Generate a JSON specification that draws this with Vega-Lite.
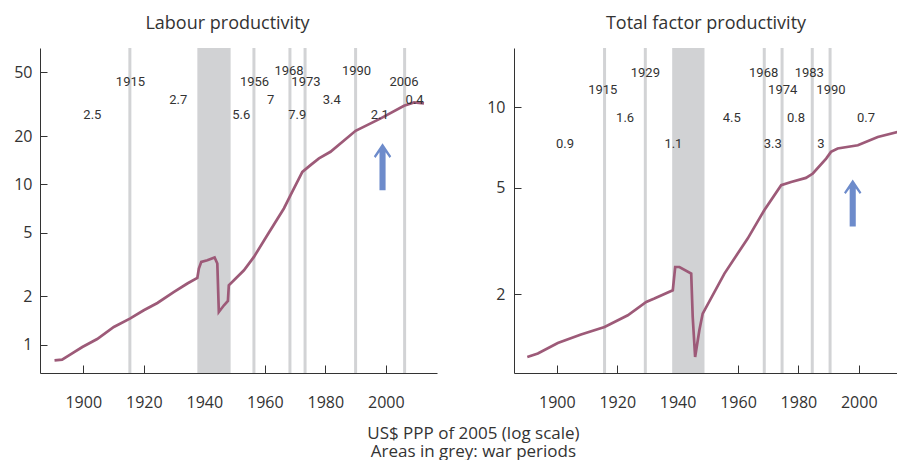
{
  "$schema": "https://vega.github.io/schema/vega-lite/v6.json",
  "background": "white",
  "padding": {"left": 13, "top": 14, "right": 0, "bottom": 0},
  "bounds": "flush",
  "spacing": 77,
  "title": {"text": ["US$ PPP of 2005 (log scale)", "Areas in grey: war periods"], "orient": "bottom", "anchor": "middle", "fontSize": 17, "font": "Open Sans", "fontWeight": "normal", "color": "#333", "lineHeight": 17.5, "offset": 16, "dx": 15},
  "config": {
    "view": {"stroke": null},
    "axis": {"grid": false, "domainColor": "#333", "tickColor": "#333", "labelColor": "#333", "labelFont": "Open Sans", "labelFontSize": 16, "title": null, "domainWidth": 1, "tickWidth": 1}
  },
  "datasets": {
    "lp": [
      {"year": 1890.5, "v": 0.797}, {"year": 1893, "v": 0.805}, {"year": 1895.8, "v": 0.868}, {"year": 1899.7, "v": 0.965},
      {"year": 1904.6, "v": 1.082}, {"year": 1910.1, "v": 1.286}, {"year": 1915.4, "v": 1.452}, {"year": 1920, "v": 1.636},
      {"year": 1924.5, "v": 1.817}, {"year": 1930, "v": 2.129}, {"year": 1934.4, "v": 2.403}, {"year": 1937.7, "v": 2.604},
      {"year": 1938.2, "v": 2.981}, {"year": 1939, "v": 3.28}, {"year": 1941, "v": 3.36}, {"year": 1943.4, "v": 3.493},
      {"year": 1944.3, "v": 3.204}, {"year": 1944.8, "v": 1.597}, {"year": 1946.5, "v": 1.758}, {"year": 1947.8, "v": 1.87},
      {"year": 1948.1, "v": 2.344}, {"year": 1953.1, "v": 2.909}, {"year": 1956.4, "v": 3.524}, {"year": 1960.8, "v": 4.814},
      {"year": 1966.3, "v": 7.069}, {"year": 1968.5, "v": 8.56}, {"year": 1972.4, "v": 11.97}, {"year": 1975.1, "v": 13.18},
      {"year": 1977.9, "v": 14.52}, {"year": 1981.7, "v": 15.97}, {"year": 1990, "v": 21.6}, {"year": 1998.3, "v": 25.82},
      {"year": 2006, "v": 30.95}, {"year": 2009.3, "v": 32.5}, {"year": 2012.6, "v": 32.03}
    ],
    "tfp": [
      {"year": 1890.2, "v": 1.164}, {"year": 1893.7, "v": 1.199}, {"year": 1900.3, "v": 1.314}, {"year": 1908, "v": 1.412},
      {"year": 1915.8, "v": 1.508}, {"year": 1923.5, "v": 1.668}, {"year": 1929.6, "v": 1.871}, {"year": 1932.3, "v": 1.926},
      {"year": 1938.4, "v": 2.069}, {"year": 1939.2, "v": 2.529}, {"year": 1940.6, "v": 2.529}, {"year": 1944.5, "v": 2.389},
      {"year": 1945, "v": 1.643}, {"year": 1945.8, "v": 1.164}, {"year": 1947.2, "v": 1.466}, {"year": 1948.3, "v": 1.692},
      {"year": 1955.5, "v": 2.389}, {"year": 1959.9, "v": 2.84}, {"year": 1963.2, "v": 3.23}, {"year": 1968.7, "v": 4.125},
      {"year": 1974.3, "v": 5.117}, {"year": 1977.6, "v": 5.264}, {"year": 1982.5, "v": 5.45}, {"year": 1984.8, "v": 5.66},
      {"year": 1989.2, "v": 6.44}, {"year": 1990.8, "v": 6.82}, {"year": 1993, "v": 7.02}, {"year": 1999.7, "v": 7.22},
      {"year": 2006.3, "v": 7.76}, {"year": 2012.9, "v": 8.1}
    ],
    "lp_band": [{"start": 1937.7, "end": 1948.7}],
    "tfp_band": [{"start": 1938.2, "end": 1948.9}],
    "lp_lines": [{"year": 1915.4}, {"year": 1956.4}, {"year": 1968.3}, {"year": 1973.3}, {"year": 1990}, {"year": 2006.2}],
    "tfp_lines": [{"year": 1915.8}, {"year": 1929.3}, {"year": 1968.7}, {"year": 1974.6}, {"year": 1984.6}, {"year": 1990.5}],
    "lp_labels": [
      {"label": "2.5", "year": 1903, "v": 27.1}, {"label": "1915", "year": 1915.6, "v": 43.3}, {"label": "2.7", "year": 1931.4, "v": 33.6},
      {"label": "5.6", "year": 1952.2, "v": 27.1}, {"label": "1956", "year": 1956.6, "v": 43.3}, {"label": "7", "year": 1961.9, "v": 33.6},
      {"label": "1968", "year": 1968, "v": 51.2}, {"label": "7.9", "year": 1970.7, "v": 27.1}, {"label": "1973", "year": 1973.6, "v": 43.3},
      {"label": "3.4", "year": 1982.1, "v": 33.6}, {"label": "1990", "year": 1990.3, "v": 51.2}, {"label": "2.1", "year": 1998, "v": 27.1},
      {"label": "2006", "year": 2006, "v": 43.3}, {"label": "0.4", "year": 2009.5, "v": 33.6}
    ],
    "tfp_labels": [
      {"label": "0.9", "year": 1902.7, "v": 7.27}, {"label": "1915", "year": 1915.2, "v": 11.61}, {"label": "1.6", "year": 1922.6, "v": 9.17},
      {"label": "1929", "year": 1929.3, "v": 13.52}, {"label": "1.1", "year": 1938.6, "v": 7.27}, {"label": "4.5", "year": 1957.9, "v": 9.17},
      {"label": "1968", "year": 1968.5, "v": 13.52}, {"label": "3.3", "year": 1971.5, "v": 7.27}, {"label": "1974", "year": 1974.8, "v": 11.61},
      {"label": "0.8", "year": 1979.2, "v": 9.17}, {"label": "1983", "year": 1983.6, "v": 13.52}, {"label": "3", "year": 1987.5, "v": 7.27},
      {"label": "1990", "year": 1990.8, "v": 11.61}, {"label": "0.7", "year": 2002.4, "v": 9.17}
    ],
    "lp_arrow": [{"year": 1998.9, "v": 12.86}],
    "tfp_arrow": [{"year": 1998.0, "v": 4.39}]
  },
  "hconcat": [
    {
      "width": 397, "height": 325,
      "title": {"text": "Labour productivity", "fontSize": 18, "font": "Open Sans", "fontWeight": "normal", "color": "#333", "offset": 14, "dx": -11},
      "layer": [
        {"data": {"name": "lp_band"}, "mark": {"type": "rect", "color": "#d1d2d4"},
         "encoding": {"x": {"field": "start", "type": "quantitative", "scale": {"domain": [1885.7, 2016.9], "nice": false, "zero": false}}, "x2": {"field": "end"}}},
        {"data": {"name": "lp_lines"}, "mark": {"type": "rule", "color": "#d2d3d5", "strokeWidth": 3},
         "encoding": {"x": {"field": "year", "type": "quantitative"}}},
        {"data": {"name": "lp"}, "mark": {"type": "line", "color": "#9d5a78", "strokeWidth": 2.7},
         "encoding": {
           "x": {"field": "year", "type": "quantitative", "scale": {"domain": [1885.7, 2016.9], "nice": false, "zero": false},
                 "axis": {"values": [1900, 1920, 1940, 1960, 1980, 2000], "format": "d", "tickSize": -8, "labelPadding": 29}},
           "y": {"field": "v", "type": "quantitative", "scale": {"type": "log", "domain": [0.664, 71.0], "nice": false},
                 "axis": {"values": [1, 2, 5, 10, 20, 50], "format": "d", "tickSize": -7, "labelPadding": 15}}
         }},
        {"data": {"name": "lp_labels"}, "mark": {"type": "text", "font": "Roboto", "fontSize": 13, "color": "#333", "baseline": "middle", "align": "center"},
         "encoding": {"x": {"field": "year", "type": "quantitative"}, "y": {"field": "v", "type": "quantitative"}, "text": {"field": "label"}}},
        {"data": {"name": "lp_arrow"}, "mark": {"type": "point", "shape": "M0,-1L0.37,-0.45L0.3,-0.38L0.13,-0.62L0.13,1L-0.13,1L-0.13,-0.62L-0.3,-0.38L-0.37,-0.45Z", "filled": true, "size": 2209, "color": "#6d8bcb", "opacity": 1, "strokeWidth": 0},
         "encoding": {"x": {"field": "year", "type": "quantitative"}, "y": {"field": "v", "type": "quantitative"}}}
      ]
    },
    {
      "width": 384, "height": 325,
      "title": {"text": "Total factor productivity", "fontSize": 18, "font": "Open Sans", "fontWeight": "normal", "color": "#333", "offset": 14},
      "layer": [
        {"data": {"name": "tfp_band"}, "mark": {"type": "rect", "color": "#d1d2d4"},
         "encoding": {"x": {"field": "start", "type": "quantitative", "scale": {"domain": [1885.8, 2013.0], "nice": false, "zero": false}}, "x2": {"field": "end"}}},
        {"data": {"name": "tfp_lines"}, "mark": {"type": "rule", "color": "#d2d3d5", "strokeWidth": 3},
         "encoding": {"x": {"field": "year", "type": "quantitative"}}},
        {"data": {"name": "tfp"}, "mark": {"type": "line", "color": "#9d5a78", "strokeWidth": 2.7},
         "encoding": {
           "x": {"field": "year", "type": "quantitative", "scale": {"domain": [1885.8, 2013.0], "nice": false, "zero": false},
                 "axis": {"values": [1900, 1920, 1940, 1960, 1980, 2000], "format": "d", "tickSize": -8, "labelPadding": 29}},
           "y": {"field": "v", "type": "quantitative", "scale": {"type": "log", "domain": [1.014, 16.7], "nice": false},
                 "axis": {"values": [2, 5, 10], "format": "d", "tickSize": -7, "labelPadding": 16}}
         }},
        {"data": {"name": "tfp_labels"}, "mark": {"type": "text", "font": "Roboto", "fontSize": 13, "color": "#333", "baseline": "middle", "align": "center"},
         "encoding": {"x": {"field": "year", "type": "quantitative"}, "y": {"field": "v", "type": "quantitative"}, "text": {"field": "label"}}},
        {"data": {"name": "tfp_arrow"}, "mark": {"type": "point", "shape": "M0,-1L0.37,-0.45L0.3,-0.38L0.13,-0.62L0.13,1L-0.13,1L-0.13,-0.62L-0.3,-0.38L-0.37,-0.45Z", "filled": true, "size": 2209, "color": "#6d8bcb", "opacity": 1, "strokeWidth": 0},
         "encoding": {"x": {"field": "year", "type": "quantitative"}, "y": {"field": "v", "type": "quantitative"}}}
      ]
    }
  ]
}
